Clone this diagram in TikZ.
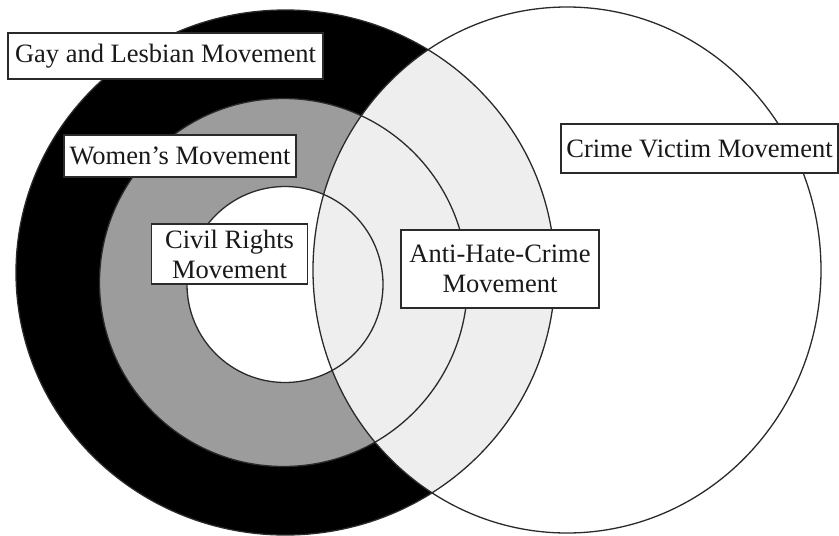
\documentclass[tikz,border=0pt]{standalone}
\usepackage{fontspec}
\setmainfont{Liberation Serif}
\definecolor{ringgray}{HTML}{9C9C9C}
\definecolor{lapgray}{HTML}{EEEEEE}
\definecolor{edgecol}{HTML}{2A2A2A}
\begin{document}
\begin{tikzpicture}[x=1pt,y=-1pt,
  labelbox/.style={draw=edgecol, line width=1.1pt, fill=white, inner sep=0pt,
    align=center, text=black!90, font=\fontsize{26.5}{30}\selectfont},
  outline/.style={draw=edgecol, line width=1.3pt}]
\useasboundingbox (0,0) rectangle (839,536);
% filled rings
\fill[black] (285.5,272.5) ellipse [x radius=269.5, y radius=262.5];
\fill[ringgray] (283.5,282.5) circle [radius=184];
\fill[white] (285,284.5) circle [radius=98];
% overlap with the crime victim circle
\begin{scope}
  \clip (567,270) ellipse [x radius=254, y radius=263];
  \fill[lapgray] (285.5,272.5) ellipse [x radius=269.5, y radius=262.5];
\end{scope}
% outlines
\draw[outline] (567,270) ellipse [x radius=254, y radius=263];
\draw[outline] (285.5,272.5) ellipse [x radius=269.5, y radius=262.5];
\draw[outline] (283.5,282.5) circle [radius=184];
\draw[outline] (285,284.5) circle [radius=98];
% labels
\node[labelbox, minimum width=315, minimum height=46] (gay) at (165.5,56) {Gay and Lesbian Movement};
\node[labelbox, minimum width=232, minimum height=42] (women) at (180,156) {Women's Movement};
\node[labelbox, minimum width=156, minimum height=60] (civil) at (229.5,254) {Civil Rights\\Movement};
\node[labelbox, minimum width=198, minimum height=78] (anti) at (500,269) {Anti-Hate-Crime\\Movement};
\node[labelbox, minimum width=277, minimum height=49] (crime) at (699.5,148.5) {Crime Victim Movement};
\end{tikzpicture}
\end{document}
